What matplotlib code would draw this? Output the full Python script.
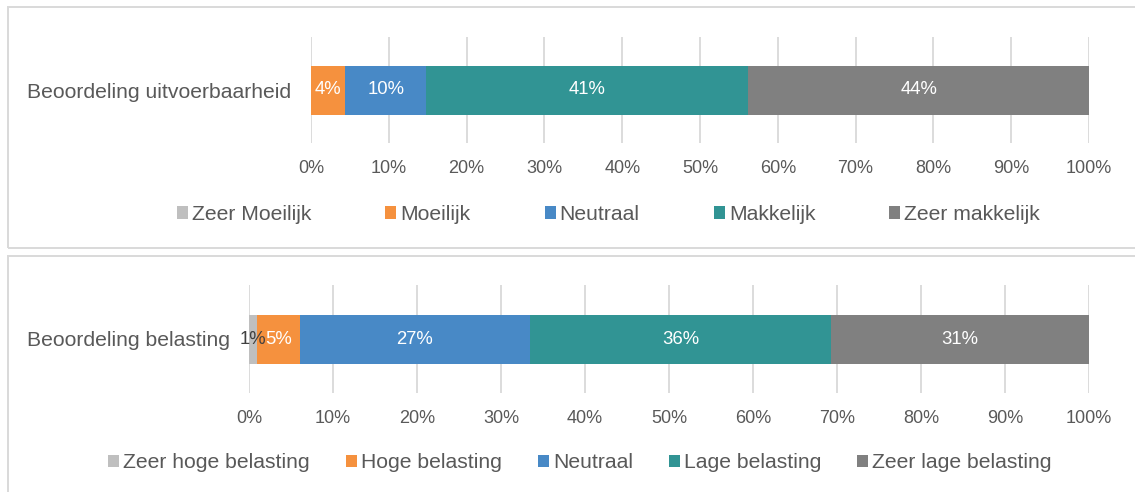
import matplotlib
matplotlib.use("Agg")
import matplotlib.pyplot as plt
from matplotlib.patches import Rectangle
import numpy as np

plt.rcParams['font.family'] = ['Liberation Sans', 'DejaVu Sans']

# ---- data ----
top_category = "Beoordeling uitvoerbaarheid"
top_series = ["Zeer Moeilijk", "Moeilijk", "Neutraal", "Makkelijk", "Zeer makkelijk"]
top_values = [0.0, 4.4, 10.4, 41.4, 43.8]

bot_category = "Beoordeling belasting"
bot_series = ["Zeer hoge belasting", "Hoge belasting", "Neutraal", "Lage belasting", "Zeer lage belasting"]
bot_values = [0.95, 5.1, 27.4, 35.85, 30.7]

x_ticks = [0, 10, 20, 30, 40, 50, 60, 70, 80, 90, 100]
x_ticklabels = [f"{t}%" for t in x_ticks]

colors = ["#BFBFBF", "#F5913E", "#4889C6", "#319494", "#808080"]
label_colors = ["#404040", "white", "white", "white", "white"]
text_color = "#595959"
grid_color = "#D9D9D9"

W, H = 1135, 492
fig = plt.figure(figsize=(W / 100, H / 100), dpi=100)

def fx(px):
    return px / W

def fy(py):
    return 1 - py / H

# panel borders
fig.patches.append(Rectangle((fx(8), fy(248)), 1.02 - fx(8), fy(7) - fy(248),
                             transform=fig.transFigure, fill=False,
                             edgecolor=grid_color, linewidth=1.4, zorder=0))
fig.patches.append(Rectangle((fx(8), -0.02), 1.02 - fx(8), fy(256) + 0.02,
                             transform=fig.transFigure, fill=False,
                             edgecolor=grid_color, linewidth=1.4, zorder=0))


def draw_panel(rect, category, series, values, bar_h, legend_xy, colspacing):
    ax = fig.add_axes(rect)
    left = 0.0
    handles = []
    for name, v, c, lc in zip(series, values, colors, label_colors):
        b = ax.barh([0], [v], left=left, height=bar_h, color=c, label=name, zorder=3)
        handles.append(b)
        if v > 0.5:
            ax.text(left + v / 2, 0, f"{round(v):d}%", ha="center", va="center",
                    color=lc, fontsize=13.3, zorder=4)
        left += v
    ax.set_xlim(0, 100)
    ax.set_ylim(-0.5, 0.5)
    ax.set_xticks(x_ticks)
    ax.set_xticklabels(x_ticklabels)
    ax.set_yticks([0])
    ax.set_yticklabels([category])
    ax.tick_params(axis="x", length=0, pad=12.5, labelsize=13, labelcolor=text_color)
    ax.tick_params(axis="y", length=0, pad=14, labelsize=15.2, labelcolor=text_color)
    for s in ax.spines.values():
        s.set_visible(False)
    ax.grid(axis="x", color=grid_color, linewidth=1.3, zorder=0)
    ax.set_axisbelow(True)
    fig.legend(handles=handles, labels=series, loc="center",
               bbox_to_anchor=legend_xy, bbox_transform=fig.transFigure,
               ncol=5, frameon=False, fontsize=15.2, labelcolor=text_color,
               handlelength=0.52, handleheight=0.52, handletextpad=0.2,
               columnspacing=colspacing, borderpad=0, borderaxespad=0)
    return ax

draw_panel([fx(311), fy(143), fx(1089) - fx(311), fy(37) - fy(143)],
           top_category, top_series, top_values, 49 / 106,
           (fx(608.5), fy(214.5)), 3.5)
draw_panel([fx(249), fy(393), fx(1089) - fx(249), fy(285) - fy(393)],
           bot_category, bot_series, bot_values, 49 / 108,
           (fx(580), fy(463)), 1.7)

fig.savefig("out.png", dpi=100)
